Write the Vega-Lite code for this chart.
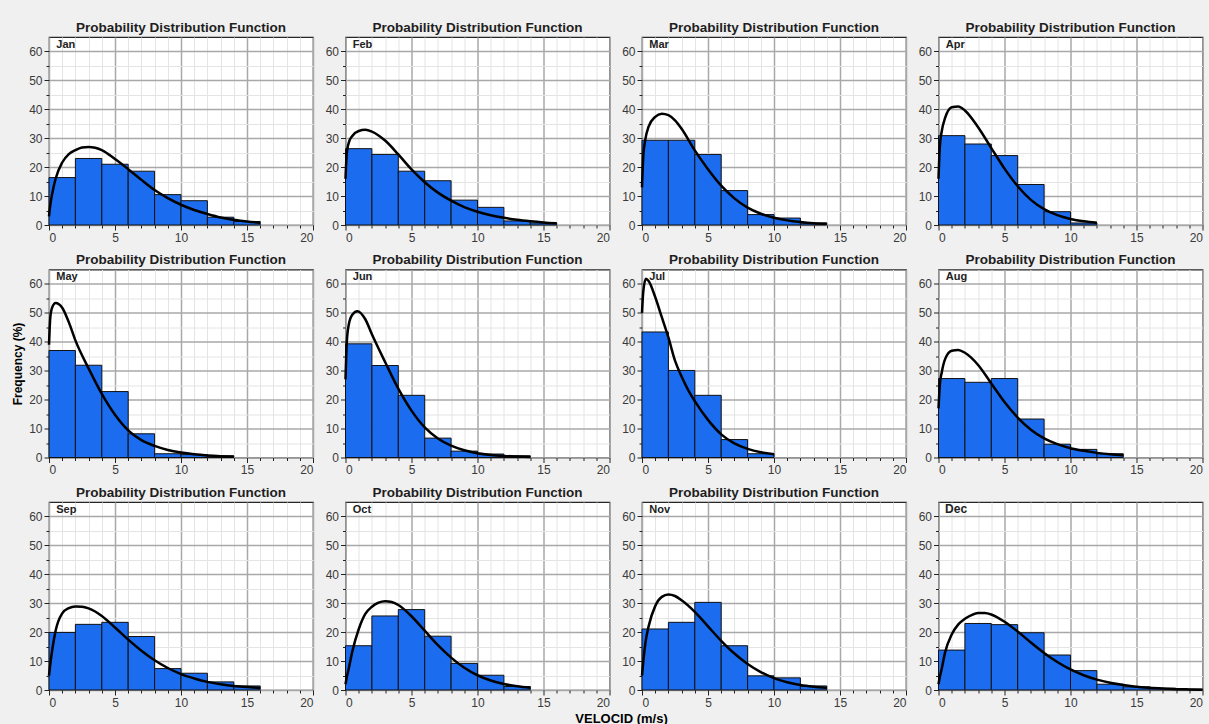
{
  "$schema": "https://vega.github.io/schema/vega-lite/v6.json",
  "background": "#f0f0f0",
  "padding": {"left": 11, "top": 19, "right": 0, "bottom": 0},
  "title": {"text": "VELOCID (m/s)", "orient": "bottom", "anchor": "middle", "fontSize": 13, "offset": 4, "dx": 12, "color": "#000"},
  "config": {
    "font": "Liberation Sans",
    "view": {"fill": "white", "stroke": "#262626", "strokeWidth": 1.2},
    "title": {"font": "Liberation Sans", "fontSize": 13.5, "fontWeight": "bold", "color": "#1e1e1e", "offset": 3, "anchor": "middle"},
    "axis": {"labelFont": "Liberation Sans", "labelFontSize": 12, "labelColor": "#3a3a3a", "tickColor": "#222", "labelPadding": 2, "labelOverlap": false, "labelBound": false, "gridOpacity": 1, "domain": false, "tickCount": 100, "titleFont": "Liberation Sans", "titleFontSize": 12, "titleFontWeight": "bold", "titleColor": "#000"}
  },
  "datasets": {
    "bars": [
      {"m":"Jan","a":0,"b":2,"v":16.4},{"m":"Jan","a":2,"b":4,"v":23.0},{"m":"Jan","a":4,"b":6,"v":21.0},{"m":"Jan","a":6,"b":8,"v":18.6},{"m":"Jan","a":8,"b":10,"v":10.5},{"m":"Jan","a":10,"b":12,"v":8.4},{"m":"Jan","a":12,"b":14,"v":2.7},{"m":"Jan","a":14,"b":16,"v":1.2},
      {"m":"Feb","a":0,"b":2,"v":26.4},{"m":"Feb","a":2,"b":4,"v":24.4},{"m":"Feb","a":4,"b":6,"v":18.6},{"m":"Feb","a":6,"b":8,"v":15.3},{"m":"Feb","a":8,"b":10,"v":8.6},{"m":"Feb","a":10,"b":12,"v":6.1},{"m":"Feb","a":12,"b":14,"v":1.4},{"m":"Feb","a":14,"b":16,"v":0.7},
      {"m":"Mar","a":0,"b":2,"v":29.3},{"m":"Mar","a":2,"b":4,"v":29.3},{"m":"Mar","a":4,"b":6,"v":24.4},{"m":"Mar","a":6,"b":8,"v":11.9},{"m":"Mar","a":8,"b":10,"v":3.6},{"m":"Mar","a":10,"b":12,"v":2.4},{"m":"Mar","a":12,"b":14,"v":0.7},
      {"m":"Apr","a":0,"b":2,"v":30.9},{"m":"Apr","a":2,"b":4,"v":28.0},{"m":"Apr","a":4,"b":6,"v":24.0},{"m":"Apr","a":6,"b":8,"v":14.0},{"m":"Apr","a":8,"b":10,"v":4.6},{"m":"Apr","a":10,"b":12,"v":0.7},
      {"m":"May","a":0,"b":2,"v":37.0},{"m":"May","a":2,"b":4,"v":31.9},{"m":"May","a":4,"b":6,"v":22.8},{"m":"May","a":6,"b":8,"v":8.2},{"m":"May","a":8,"b":10,"v":1.3},{"m":"May","a":10,"b":12,"v":1.0},{"m":"May","a":12,"b":14,"v":0.6},
      {"m":"Jun","a":0,"b":2,"v":39.3},{"m":"Jun","a":2,"b":4,"v":31.8},{"m":"Jun","a":4,"b":6,"v":21.5},{"m":"Jun","a":6,"b":8,"v":6.7},{"m":"Jun","a":8,"b":10,"v":2.2},{"m":"Jun","a":10,"b":12,"v":1.2},{"m":"Jun","a":12,"b":14,"v":0.6},
      {"m":"Jul","a":0,"b":2,"v":43.4},{"m":"Jul","a":2,"b":4,"v":30.1},{"m":"Jul","a":4,"b":6,"v":21.5},{"m":"Jul","a":6,"b":8,"v":6.2},{"m":"Jul","a":8,"b":10,"v":1.3},
      {"m":"Aug","a":0,"b":2,"v":27.3},{"m":"Aug","a":2,"b":4,"v":26.0},{"m":"Aug","a":4,"b":6,"v":27.3},{"m":"Aug","a":6,"b":8,"v":13.3},{"m":"Aug","a":8,"b":10,"v":4.6},{"m":"Aug","a":10,"b":12,"v":2.8},{"m":"Aug","a":12,"b":14,"v":1.3},
      {"m":"Sep","a":0,"b":2,"v":19.9},{"m":"Sep","a":2,"b":4,"v":22.7},{"m":"Sep","a":4,"b":6,"v":23.4},{"m":"Sep","a":6,"b":8,"v":18.5},{"m":"Sep","a":8,"b":10,"v":7.4},{"m":"Sep","a":10,"b":12,"v":5.8},{"m":"Sep","a":12,"b":14,"v":2.8},{"m":"Sep","a":14,"b":16,"v":1.4},
      {"m":"Oct","a":0,"b":2,"v":15.3},{"m":"Oct","a":2,"b":4,"v":25.6},{"m":"Oct","a":4,"b":6,"v":27.8},{"m":"Oct","a":6,"b":8,"v":18.6},{"m":"Oct","a":8,"b":10,"v":9.2},{"m":"Oct","a":10,"b":12,"v":5.1},{"m":"Oct","a":12,"b":14,"v":1.2},
      {"m":"Nov","a":0,"b":2,"v":21.1},{"m":"Nov","a":2,"b":4,"v":23.4},{"m":"Nov","a":4,"b":6,"v":30.3},{"m":"Nov","a":6,"b":8,"v":15.3},{"m":"Nov","a":8,"b":10,"v":4.9},{"m":"Nov","a":10,"b":12,"v":4.2},{"m":"Nov","a":12,"b":14,"v":1.4},
      {"m":"Dec","a":0,"b":2,"v":13.8},{"m":"Dec","a":2,"b":4,"v":23.0},{"m":"Dec","a":4,"b":6,"v":22.6},{"m":"Dec","a":6,"b":8,"v":19.8},{"m":"Dec","a":8,"b":10,"v":12.1},{"m":"Dec","a":10,"b":12,"v":6.7},{"m":"Dec","a":12,"b":14,"v":2.0},{"m":"Dec","a":14,"b":16,"v":1.1},{"m":"Dec","a":16,"b":18,"v":0.6},{"m":"Dec","a":18,"b":20,"v":0.3}
    ],
    "curve": [
      {"m":"Jan","x":0,"y":3},{"m":"Jan","x":0.1,"y":7},{"m":"Jan","x":0.25,"y":11},{"m":"Jan","x":0.5,"y":16},{"m":"Jan","x":1,"y":21.6},{"m":"Jan","x":1.5,"y":24.5},{"m":"Jan","x":2,"y":25.9},{"m":"Jan","x":2.5,"y":26.8},{"m":"Jan","x":3,"y":27},{"m":"Jan","x":3.5,"y":26.7},{"m":"Jan","x":4,"y":25.9},{"m":"Jan","x":5,"y":22.8},{"m":"Jan","x":6,"y":19.3},{"m":"Jan","x":7,"y":15.6},{"m":"Jan","x":8,"y":12.1},{"m":"Jan","x":9,"y":9.3},{"m":"Jan","x":10,"y":7},{"m":"Jan","x":11,"y":5.2},{"m":"Jan","x":12,"y":3.8},{"m":"Jan","x":13,"y":2.6},{"m":"Jan","x":14,"y":1.8},{"m":"Jan","x":15,"y":1.2},{"m":"Jan","x":16,"y":0.8},
      {"m":"Feb","x":0,"y":16},{"m":"Feb","x":0.1,"y":25},{"m":"Feb","x":0.25,"y":28.5},{"m":"Feb","x":0.5,"y":30.7},{"m":"Feb","x":1,"y":32.5},{"m":"Feb","x":1.5,"y":32.9},{"m":"Feb","x":2,"y":32.3},{"m":"Feb","x":3,"y":29.2},{"m":"Feb","x":4,"y":24.4},{"m":"Feb","x":5,"y":19.2},{"m":"Feb","x":6,"y":14.8},{"m":"Feb","x":7,"y":11.2},{"m":"Feb","x":8,"y":8.4},{"m":"Feb","x":9,"y":6.2},{"m":"Feb","x":10,"y":4.6},{"m":"Feb","x":11,"y":3.4},{"m":"Feb","x":12,"y":2.5},{"m":"Feb","x":13,"y":1.8},{"m":"Feb","x":14,"y":1.3},{"m":"Feb","x":15,"y":0.9},{"m":"Feb","x":16,"y":0.6},
      {"m":"Mar","x":0,"y":13},{"m":"Mar","x":0.1,"y":24},{"m":"Mar","x":0.25,"y":29.5},{"m":"Mar","x":0.5,"y":34},{"m":"Mar","x":1,"y":37.4},{"m":"Mar","x":1.5,"y":38.5},{"m":"Mar","x":2,"y":38},{"m":"Mar","x":2.5,"y":36.2},{"m":"Mar","x":3,"y":33.3},{"m":"Mar","x":4,"y":25.8},{"m":"Mar","x":5,"y":19.3},{"m":"Mar","x":6,"y":13.6},{"m":"Mar","x":7,"y":9.2},{"m":"Mar","x":8,"y":6},{"m":"Mar","x":9,"y":3.9},{"m":"Mar","x":10,"y":2.5},{"m":"Mar","x":11,"y":1.6},{"m":"Mar","x":12,"y":1},{"m":"Mar","x":13,"y":0.6},{"m":"Mar","x":14,"y":0.4},
      {"m":"Apr","x":0,"y":16},{"m":"Apr","x":0.1,"y":27},{"m":"Apr","x":0.25,"y":32.5},{"m":"Apr","x":0.5,"y":37},{"m":"Apr","x":1,"y":40.7},{"m":"Apr","x":1.5,"y":41},{"m":"Apr","x":2,"y":39.6},{"m":"Apr","x":3,"y":33.8},{"m":"Apr","x":4,"y":26.6},{"m":"Apr","x":5,"y":19.5},{"m":"Apr","x":6,"y":13.4},{"m":"Apr","x":7,"y":8.7},{"m":"Apr","x":8,"y":5.5},{"m":"Apr","x":9,"y":3.4},{"m":"Apr","x":10,"y":2.1},{"m":"Apr","x":11,"y":1.3},{"m":"Apr","x":12,"y":0.8},
      {"m":"May","x":0,"y":39},{"m":"May","x":0.1,"y":48.5},{"m":"May","x":0.25,"y":52},{"m":"May","x":0.5,"y":53.4},{"m":"May","x":0.75,"y":53},{"m":"May","x":1,"y":51.8},{"m":"May","x":1.5,"y":46.8},{"m":"May","x":2,"y":40.5},{"m":"May","x":3,"y":30.8},{"m":"May","x":4,"y":22},{"m":"May","x":5,"y":14.8},{"m":"May","x":6,"y":9.4},{"m":"May","x":7,"y":6},{"m":"May","x":8,"y":4},{"m":"May","x":9,"y":2.6},{"m":"May","x":10,"y":1.7},{"m":"May","x":11,"y":1.1},{"m":"May","x":12,"y":0.7},{"m":"May","x":13,"y":0.45},{"m":"May","x":14,"y":0.3},
      {"m":"Jun","x":0,"y":27},{"m":"Jun","x":0.1,"y":40},{"m":"Jun","x":0.25,"y":46},{"m":"Jun","x":0.5,"y":49.3},{"m":"Jun","x":0.9,"y":50.6},{"m":"Jun","x":1.5,"y":47.8},{"m":"Jun","x":2,"y":42.6},{"m":"Jun","x":3,"y":33},{"m":"Jun","x":4,"y":23.8},{"m":"Jun","x":5,"y":16.2},{"m":"Jun","x":6,"y":10.4},{"m":"Jun","x":7,"y":6.6},{"m":"Jun","x":8,"y":4.1},{"m":"Jun","x":9,"y":2.5},{"m":"Jun","x":10,"y":1.5},{"m":"Jun","x":11,"y":0.9},{"m":"Jun","x":12,"y":0.55},{"m":"Jun","x":13,"y":0.35},{"m":"Jun","x":14,"y":0.2},
      {"m":"Jul","x":0,"y":50},{"m":"Jul","x":0.1,"y":57.5},{"m":"Jul","x":0.3,"y":61.8},{"m":"Jul","x":0.5,"y":61},{"m":"Jul","x":1,"y":55.5},{"m":"Jul","x":1.5,"y":48.5},{"m":"Jul","x":2,"y":41.5},{"m":"Jul","x":2.5,"y":33.5},{"m":"Jul","x":3,"y":28},{"m":"Jul","x":3.5,"y":23.3},{"m":"Jul","x":4,"y":19.5},{"m":"Jul","x":5,"y":13},{"m":"Jul","x":6,"y":8},{"m":"Jul","x":7,"y":4.9},{"m":"Jul","x":8,"y":3},{"m":"Jul","x":9,"y":1.8},{"m":"Jul","x":10,"y":1.1},
      {"m":"Aug","x":0,"y":17},{"m":"Aug","x":0.1,"y":25},{"m":"Aug","x":0.25,"y":29.5},{"m":"Aug","x":0.5,"y":34},{"m":"Aug","x":1,"y":36.9},{"m":"Aug","x":1.5,"y":37.2},{"m":"Aug","x":2,"y":36.2},{"m":"Aug","x":3,"y":32},{"m":"Aug","x":4,"y":25.6},{"m":"Aug","x":5,"y":19.2},{"m":"Aug","x":6,"y":13.8},{"m":"Aug","x":7,"y":9.6},{"m":"Aug","x":8,"y":6.6},{"m":"Aug","x":9,"y":4.6},{"m":"Aug","x":10,"y":3.2},{"m":"Aug","x":11,"y":2.3},{"m":"Aug","x":12,"y":1.6},{"m":"Aug","x":13,"y":1.1},{"m":"Aug","x":14,"y":0.8},
      {"m":"Sep","x":0,"y":5},{"m":"Sep","x":0.1,"y":9},{"m":"Sep","x":0.25,"y":14},{"m":"Sep","x":0.5,"y":20.5},{"m":"Sep","x":1,"y":26.5},{"m":"Sep","x":1.5,"y":28.3},{"m":"Sep","x":2,"y":28.9},{"m":"Sep","x":2.5,"y":28.8},{"m":"Sep","x":3,"y":28.2},{"m":"Sep","x":4,"y":25.6},{"m":"Sep","x":5,"y":21.6},{"m":"Sep","x":6,"y":17.4},{"m":"Sep","x":7,"y":13.6},{"m":"Sep","x":8,"y":10.3},{"m":"Sep","x":9,"y":7.6},{"m":"Sep","x":10,"y":5.5},{"m":"Sep","x":11,"y":4},{"m":"Sep","x":12,"y":2.8},{"m":"Sep","x":13,"y":2},{"m":"Sep","x":14,"y":1.4},{"m":"Sep","x":15,"y":1},{"m":"Sep","x":16,"y":0.7},
      {"m":"Oct","x":0,"y":2},{"m":"Oct","x":0.1,"y":4.5},{"m":"Oct","x":0.25,"y":7.5},{"m":"Oct","x":0.5,"y":13},{"m":"Oct","x":1,"y":21},{"m":"Oct","x":1.5,"y":26.3},{"m":"Oct","x":2,"y":28.8},{"m":"Oct","x":2.5,"y":30.2},{"m":"Oct","x":3,"y":30.7},{"m":"Oct","x":3.5,"y":30.4},{"m":"Oct","x":4,"y":29.4},{"m":"Oct","x":5,"y":25.5},{"m":"Oct","x":6,"y":20.5},{"m":"Oct","x":7,"y":15.5},{"m":"Oct","x":8,"y":11.2},{"m":"Oct","x":9,"y":7.7},{"m":"Oct","x":10,"y":5.1},{"m":"Oct","x":11,"y":3.3},{"m":"Oct","x":12,"y":2.1},{"m":"Oct","x":13,"y":1.3},{"m":"Oct","x":14,"y":0.8},
      {"m":"Nov","x":0,"y":5},{"m":"Nov","x":0.1,"y":10},{"m":"Nov","x":0.25,"y":16},{"m":"Nov","x":0.5,"y":22},{"m":"Nov","x":1,"y":29},{"m":"Nov","x":1.5,"y":32.2},{"m":"Nov","x":2,"y":33},{"m":"Nov","x":2.5,"y":32.5},{"m":"Nov","x":3,"y":31},{"m":"Nov","x":4,"y":27},{"m":"Nov","x":5,"y":22},{"m":"Nov","x":6,"y":17},{"m":"Nov","x":7,"y":12.6},{"m":"Nov","x":8,"y":9},{"m":"Nov","x":9,"y":6.2},{"m":"Nov","x":10,"y":4.1},{"m":"Nov","x":11,"y":2.7},{"m":"Nov","x":12,"y":1.7},{"m":"Nov","x":13,"y":1.1},{"m":"Nov","x":14,"y":0.7},
      {"m":"Dec","x":0,"y":2},{"m":"Dec","x":0.1,"y":4.5},{"m":"Dec","x":0.25,"y":7.5},{"m":"Dec","x":0.5,"y":13},{"m":"Dec","x":1,"y":19.2},{"m":"Dec","x":1.5,"y":22.7},{"m":"Dec","x":2,"y":24.6},{"m":"Dec","x":2.5,"y":25.9},{"m":"Dec","x":3,"y":26.6},{"m":"Dec","x":3.5,"y":26.6},{"m":"Dec","x":4,"y":26.1},{"m":"Dec","x":5,"y":23.6},{"m":"Dec","x":6,"y":20.2},{"m":"Dec","x":7,"y":16.4},{"m":"Dec","x":8,"y":12.8},{"m":"Dec","x":9,"y":9.7},{"m":"Dec","x":10,"y":7.1},{"m":"Dec","x":11,"y":5.1},{"m":"Dec","x":12,"y":3.6},{"m":"Dec","x":13,"y":2.5},{"m":"Dec","x":14,"y":1.7},{"m":"Dec","x":15,"y":1.1},{"m":"Dec","x":16,"y":0.75},{"m":"Dec","x":17,"y":0.5},{"m":"Dec","x":18,"y":0.3},{"m":"Dec","x":19,"y":0.2},{"m":"Dec","x":20,"y":0.12}
    ]
  },
  "columns": 4,
  "align": "each",
  "spacing": {"row": 7.5, "column": 9.5},
  "concat": [
    {"title": "Probability Distribution Function", "width": 264, "height": 188, "layer": [
      {"data": {"name": "bars"}, "transform": [{"filter": "datum.m === 'Jan'"}], "mark": {"type": "rect", "fill": "#1b6cee", "stroke": "#111", "strokeWidth": 1}, "encoding": {"x": {"field": "a", "type": "quantitative", "scale": {"domain": [0, 20], "nice": false}, "axis": {"title": null, "format": "d", "tickCount": 100, "values": [0,1,2,3,4,5,6,7,8,9,10,11,12,13,14,15,16,17,18,19,20], "labelExpr": "datum.value % 5 === 0 ? datum.label : ''", "gridColor": {"condition": {"test": "datum.value % 5 === 0", "value": "#a8a8a8"}, "value": "#e4e4e4"}, "gridWidth": {"condition": {"test": "datum.value % 5 === 0", "value": 1.5}, "value": 1}, "tickSize": {"condition": {"test": "datum.value % 5 === 0", "value": 5}, "value": 3}}}, "x2": {"field": "b"}, "y": {"field": "v", "type": "quantitative", "scale": {"domain": [0, 65], "nice": false}, "axis": {"title": null, "format": "d", "tickCount": 100, "values": [0,5,10,15,20,25,30,35,40,45,50,55,60], "labelExpr": "datum.value % 10 === 0 ? datum.label : ''", "gridColor": {"condition": {"test": "datum.value % 10 === 0", "value": "#a8a8a8"}, "value": "#e4e4e4"}, "gridWidth": {"condition": {"test": "datum.value % 10 === 0", "value": 1.5}, "value": 1}, "tickSize": {"condition": {"test": "datum.value % 10 === 0", "value": 5}, "value": 3}}}, "y2": {"datum": 0}}},
      {"data": {"name": "curve"}, "transform": [{"filter": "datum.m === 'Jan'"}], "mark": {"type": "line", "interpolate": "monotone", "color": "black", "strokeWidth": 2.5}, "encoding": {"x": {"field": "x", "type": "quantitative"}, "y": {"field": "y", "type": "quantitative"}}},
      {"data": {"values": [{"m": "Jan"}]}, "mark": {"type": "text", "align": "left", "baseline": "middle", "fontWeight": "bold", "fontSize": 11, "font": "Liberation Sans", "color": "#222"}, "encoding": {"x": {"datum": 0.55, "type": "quantitative"}, "y": {"datum": 62.3, "type": "quantitative"}, "text": {"field": "m"}}}
    ]},
    {"title": "Probability Distribution Function", "width": 264, "height": 188, "layer": [
      {"data": {"name": "bars"}, "transform": [{"filter": "datum.m === 'Feb'"}], "mark": {"type": "rect", "fill": "#1b6cee", "stroke": "#111", "strokeWidth": 1}, "encoding": {"x": {"field": "a", "type": "quantitative", "scale": {"domain": [0, 20], "nice": false}, "axis": {"title": null, "format": "d", "tickCount": 100, "values": [0,1,2,3,4,5,6,7,8,9,10,11,12,13,14,15,16,17,18,19,20], "labelExpr": "datum.value % 5 === 0 ? datum.label : ''", "gridColor": {"condition": {"test": "datum.value % 5 === 0", "value": "#a8a8a8"}, "value": "#e4e4e4"}, "gridWidth": {"condition": {"test": "datum.value % 5 === 0", "value": 1.5}, "value": 1}, "tickSize": {"condition": {"test": "datum.value % 5 === 0", "value": 5}, "value": 3}}}, "x2": {"field": "b"}, "y": {"field": "v", "type": "quantitative", "scale": {"domain": [0, 65], "nice": false}, "axis": {"title": null, "format": "d", "tickCount": 100, "values": [0,5,10,15,20,25,30,35,40,45,50,55,60], "labelExpr": "datum.value % 10 === 0 ? datum.label : ''", "gridColor": {"condition": {"test": "datum.value % 10 === 0", "value": "#a8a8a8"}, "value": "#e4e4e4"}, "gridWidth": {"condition": {"test": "datum.value % 10 === 0", "value": 1.5}, "value": 1}, "tickSize": {"condition": {"test": "datum.value % 10 === 0", "value": 5}, "value": 3}}}, "y2": {"datum": 0}}},
      {"data": {"name": "curve"}, "transform": [{"filter": "datum.m === 'Feb'"}], "mark": {"type": "line", "interpolate": "monotone", "color": "black", "strokeWidth": 2.5}, "encoding": {"x": {"field": "x", "type": "quantitative"}, "y": {"field": "y", "type": "quantitative"}}},
      {"data": {"values": [{"m": "Feb"}]}, "mark": {"type": "text", "align": "left", "baseline": "middle", "fontWeight": "bold", "fontSize": 11, "font": "Liberation Sans", "color": "#222"}, "encoding": {"x": {"datum": 0.55, "type": "quantitative"}, "y": {"datum": 62.3, "type": "quantitative"}, "text": {"field": "m"}}}
    ]},
    {"title": "Probability Distribution Function", "width": 264, "height": 188, "layer": [
      {"data": {"name": "bars"}, "transform": [{"filter": "datum.m === 'Mar'"}], "mark": {"type": "rect", "fill": "#1b6cee", "stroke": "#111", "strokeWidth": 1}, "encoding": {"x": {"field": "a", "type": "quantitative", "scale": {"domain": [0, 20], "nice": false}, "axis": {"title": null, "format": "d", "tickCount": 100, "values": [0,1,2,3,4,5,6,7,8,9,10,11,12,13,14,15,16,17,18,19,20], "labelExpr": "datum.value % 5 === 0 ? datum.label : ''", "gridColor": {"condition": {"test": "datum.value % 5 === 0", "value": "#a8a8a8"}, "value": "#e4e4e4"}, "gridWidth": {"condition": {"test": "datum.value % 5 === 0", "value": 1.5}, "value": 1}, "tickSize": {"condition": {"test": "datum.value % 5 === 0", "value": 5}, "value": 3}}}, "x2": {"field": "b"}, "y": {"field": "v", "type": "quantitative", "scale": {"domain": [0, 65], "nice": false}, "axis": {"title": null, "format": "d", "tickCount": 100, "values": [0,5,10,15,20,25,30,35,40,45,50,55,60], "labelExpr": "datum.value % 10 === 0 ? datum.label : ''", "gridColor": {"condition": {"test": "datum.value % 10 === 0", "value": "#a8a8a8"}, "value": "#e4e4e4"}, "gridWidth": {"condition": {"test": "datum.value % 10 === 0", "value": 1.5}, "value": 1}, "tickSize": {"condition": {"test": "datum.value % 10 === 0", "value": 5}, "value": 3}}}, "y2": {"datum": 0}}},
      {"data": {"name": "curve"}, "transform": [{"filter": "datum.m === 'Mar'"}], "mark": {"type": "line", "interpolate": "monotone", "color": "black", "strokeWidth": 2.5}, "encoding": {"x": {"field": "x", "type": "quantitative"}, "y": {"field": "y", "type": "quantitative"}}},
      {"data": {"values": [{"m": "Mar"}]}, "mark": {"type": "text", "align": "left", "baseline": "middle", "fontWeight": "bold", "fontSize": 11, "font": "Liberation Sans", "color": "#222"}, "encoding": {"x": {"datum": 0.55, "type": "quantitative"}, "y": {"datum": 62.3, "type": "quantitative"}, "text": {"field": "m"}}}
    ]},
    {"title": "Probability Distribution Function", "width": 264, "height": 188, "layer": [
      {"data": {"name": "bars"}, "transform": [{"filter": "datum.m === 'Apr'"}], "mark": {"type": "rect", "fill": "#1b6cee", "stroke": "#111", "strokeWidth": 1}, "encoding": {"x": {"field": "a", "type": "quantitative", "scale": {"domain": [0, 20], "nice": false}, "axis": {"title": null, "format": "d", "tickCount": 100, "values": [0,1,2,3,4,5,6,7,8,9,10,11,12,13,14,15,16,17,18,19,20], "labelExpr": "datum.value % 5 === 0 ? datum.label : ''", "gridColor": {"condition": {"test": "datum.value % 5 === 0", "value": "#a8a8a8"}, "value": "#e4e4e4"}, "gridWidth": {"condition": {"test": "datum.value % 5 === 0", "value": 1.5}, "value": 1}, "tickSize": {"condition": {"test": "datum.value % 5 === 0", "value": 5}, "value": 3}}}, "x2": {"field": "b"}, "y": {"field": "v", "type": "quantitative", "scale": {"domain": [0, 65], "nice": false}, "axis": {"title": null, "format": "d", "tickCount": 100, "values": [0,5,10,15,20,25,30,35,40,45,50,55,60], "labelExpr": "datum.value % 10 === 0 ? datum.label : ''", "gridColor": {"condition": {"test": "datum.value % 10 === 0", "value": "#a8a8a8"}, "value": "#e4e4e4"}, "gridWidth": {"condition": {"test": "datum.value % 10 === 0", "value": 1.5}, "value": 1}, "tickSize": {"condition": {"test": "datum.value % 10 === 0", "value": 5}, "value": 3}}}, "y2": {"datum": 0}}},
      {"data": {"name": "curve"}, "transform": [{"filter": "datum.m === 'Apr'"}], "mark": {"type": "line", "interpolate": "monotone", "color": "black", "strokeWidth": 2.5}, "encoding": {"x": {"field": "x", "type": "quantitative"}, "y": {"field": "y", "type": "quantitative"}}},
      {"data": {"values": [{"m": "Apr"}]}, "mark": {"type": "text", "align": "left", "baseline": "middle", "fontWeight": "bold", "fontSize": 11, "font": "Liberation Sans", "color": "#222"}, "encoding": {"x": {"datum": 0.55, "type": "quantitative"}, "y": {"datum": 62.3, "type": "quantitative"}, "text": {"field": "m"}}}
    ]},
    {"title": "Probability Distribution Function", "width": 264, "height": 188, "layer": [
      {"data": {"name": "bars"}, "transform": [{"filter": "datum.m === 'May'"}], "mark": {"type": "rect", "fill": "#1b6cee", "stroke": "#111", "strokeWidth": 1}, "encoding": {"x": {"field": "a", "type": "quantitative", "scale": {"domain": [0, 20], "nice": false}, "axis": {"title": null, "format": "d", "tickCount": 100, "values": [0,1,2,3,4,5,6,7,8,9,10,11,12,13,14,15,16,17,18,19,20], "labelExpr": "datum.value % 5 === 0 ? datum.label : ''", "gridColor": {"condition": {"test": "datum.value % 5 === 0", "value": "#a8a8a8"}, "value": "#e4e4e4"}, "gridWidth": {"condition": {"test": "datum.value % 5 === 0", "value": 1.5}, "value": 1}, "tickSize": {"condition": {"test": "datum.value % 5 === 0", "value": 5}, "value": 3}}}, "x2": {"field": "b"}, "y": {"field": "v", "type": "quantitative", "scale": {"domain": [0, 65], "nice": false}, "axis": {"title": "Frequency (%)", "titlePadding": 4, "format": "d", "tickCount": 100, "values": [0,5,10,15,20,25,30,35,40,45,50,55,60], "labelExpr": "datum.value % 10 === 0 ? datum.label : ''", "gridColor": {"condition": {"test": "datum.value % 10 === 0", "value": "#a8a8a8"}, "value": "#e4e4e4"}, "gridWidth": {"condition": {"test": "datum.value % 10 === 0", "value": 1.5}, "value": 1}, "tickSize": {"condition": {"test": "datum.value % 10 === 0", "value": 5}, "value": 3}}}, "y2": {"datum": 0}}},
      {"data": {"name": "curve"}, "transform": [{"filter": "datum.m === 'May'"}], "mark": {"type": "line", "interpolate": "monotone", "color": "black", "strokeWidth": 2.5}, "encoding": {"x": {"field": "x", "type": "quantitative"}, "y": {"field": "y", "type": "quantitative"}}},
      {"data": {"values": [{"m": "May"}]}, "mark": {"type": "text", "align": "left", "baseline": "middle", "fontWeight": "bold", "fontSize": 11, "font": "Liberation Sans", "color": "#222"}, "encoding": {"x": {"datum": 0.55, "type": "quantitative"}, "y": {"datum": 62.3, "type": "quantitative"}, "text": {"field": "m"}}}
    ]},
    {"title": "Probability Distribution Function", "width": 264, "height": 188, "layer": [
      {"data": {"name": "bars"}, "transform": [{"filter": "datum.m === 'Jun'"}], "mark": {"type": "rect", "fill": "#1b6cee", "stroke": "#111", "strokeWidth": 1}, "encoding": {"x": {"field": "a", "type": "quantitative", "scale": {"domain": [0, 20], "nice": false}, "axis": {"title": null, "format": "d", "tickCount": 100, "values": [0,1,2,3,4,5,6,7,8,9,10,11,12,13,14,15,16,17,18,19,20], "labelExpr": "datum.value % 5 === 0 ? datum.label : ''", "gridColor": {"condition": {"test": "datum.value % 5 === 0", "value": "#a8a8a8"}, "value": "#e4e4e4"}, "gridWidth": {"condition": {"test": "datum.value % 5 === 0", "value": 1.5}, "value": 1}, "tickSize": {"condition": {"test": "datum.value % 5 === 0", "value": 5}, "value": 3}}}, "x2": {"field": "b"}, "y": {"field": "v", "type": "quantitative", "scale": {"domain": [0, 65], "nice": false}, "axis": {"title": null, "format": "d", "tickCount": 100, "values": [0,5,10,15,20,25,30,35,40,45,50,55,60], "labelExpr": "datum.value % 10 === 0 ? datum.label : ''", "gridColor": {"condition": {"test": "datum.value % 10 === 0", "value": "#a8a8a8"}, "value": "#e4e4e4"}, "gridWidth": {"condition": {"test": "datum.value % 10 === 0", "value": 1.5}, "value": 1}, "tickSize": {"condition": {"test": "datum.value % 10 === 0", "value": 5}, "value": 3}}}, "y2": {"datum": 0}}},
      {"data": {"name": "curve"}, "transform": [{"filter": "datum.m === 'Jun'"}], "mark": {"type": "line", "interpolate": "monotone", "color": "black", "strokeWidth": 2.5}, "encoding": {"x": {"field": "x", "type": "quantitative"}, "y": {"field": "y", "type": "quantitative"}}},
      {"data": {"values": [{"m": "Jun"}]}, "mark": {"type": "text", "align": "left", "baseline": "middle", "fontWeight": "bold", "fontSize": 11, "font": "Liberation Sans", "color": "#222"}, "encoding": {"x": {"datum": 0.55, "type": "quantitative"}, "y": {"datum": 62.3, "type": "quantitative"}, "text": {"field": "m"}}}
    ]},
    {"title": "Probability Distribution Function", "width": 264, "height": 188, "layer": [
      {"data": {"name": "bars"}, "transform": [{"filter": "datum.m === 'Jul'"}], "mark": {"type": "rect", "fill": "#1b6cee", "stroke": "#111", "strokeWidth": 1}, "encoding": {"x": {"field": "a", "type": "quantitative", "scale": {"domain": [0, 20], "nice": false}, "axis": {"title": null, "format": "d", "tickCount": 100, "values": [0,1,2,3,4,5,6,7,8,9,10,11,12,13,14,15,16,17,18,19,20], "labelExpr": "datum.value % 5 === 0 ? datum.label : ''", "gridColor": {"condition": {"test": "datum.value % 5 === 0", "value": "#a8a8a8"}, "value": "#e4e4e4"}, "gridWidth": {"condition": {"test": "datum.value % 5 === 0", "value": 1.5}, "value": 1}, "tickSize": {"condition": {"test": "datum.value % 5 === 0", "value": 5}, "value": 3}}}, "x2": {"field": "b"}, "y": {"field": "v", "type": "quantitative", "scale": {"domain": [0, 65], "nice": false}, "axis": {"title": null, "format": "d", "tickCount": 100, "values": [0,5,10,15,20,25,30,35,40,45,50,55,60], "labelExpr": "datum.value % 10 === 0 ? datum.label : ''", "gridColor": {"condition": {"test": "datum.value % 10 === 0", "value": "#a8a8a8"}, "value": "#e4e4e4"}, "gridWidth": {"condition": {"test": "datum.value % 10 === 0", "value": 1.5}, "value": 1}, "tickSize": {"condition": {"test": "datum.value % 10 === 0", "value": 5}, "value": 3}}}, "y2": {"datum": 0}}},
      {"data": {"name": "curve"}, "transform": [{"filter": "datum.m === 'Jul'"}], "mark": {"type": "line", "interpolate": "monotone", "color": "black", "strokeWidth": 2.5}, "encoding": {"x": {"field": "x", "type": "quantitative"}, "y": {"field": "y", "type": "quantitative"}}},
      {"data": {"values": [{"m": "Jul"}]}, "mark": {"type": "text", "align": "left", "baseline": "middle", "fontWeight": "bold", "fontSize": 11, "font": "Liberation Sans", "color": "#222"}, "encoding": {"x": {"datum": 0.55, "type": "quantitative"}, "y": {"datum": 62.3, "type": "quantitative"}, "text": {"field": "m"}}}
    ]},
    {"title": "Probability Distribution Function", "width": 264, "height": 188, "layer": [
      {"data": {"name": "bars"}, "transform": [{"filter": "datum.m === 'Aug'"}], "mark": {"type": "rect", "fill": "#1b6cee", "stroke": "#111", "strokeWidth": 1}, "encoding": {"x": {"field": "a", "type": "quantitative", "scale": {"domain": [0, 20], "nice": false}, "axis": {"title": null, "format": "d", "tickCount": 100, "values": [0,1,2,3,4,5,6,7,8,9,10,11,12,13,14,15,16,17,18,19,20], "labelExpr": "datum.value % 5 === 0 ? datum.label : ''", "gridColor": {"condition": {"test": "datum.value % 5 === 0", "value": "#a8a8a8"}, "value": "#e4e4e4"}, "gridWidth": {"condition": {"test": "datum.value % 5 === 0", "value": 1.5}, "value": 1}, "tickSize": {"condition": {"test": "datum.value % 5 === 0", "value": 5}, "value": 3}}}, "x2": {"field": "b"}, "y": {"field": "v", "type": "quantitative", "scale": {"domain": [0, 65], "nice": false}, "axis": {"title": null, "format": "d", "tickCount": 100, "values": [0,5,10,15,20,25,30,35,40,45,50,55,60], "labelExpr": "datum.value % 10 === 0 ? datum.label : ''", "gridColor": {"condition": {"test": "datum.value % 10 === 0", "value": "#a8a8a8"}, "value": "#e4e4e4"}, "gridWidth": {"condition": {"test": "datum.value % 10 === 0", "value": 1.5}, "value": 1}, "tickSize": {"condition": {"test": "datum.value % 10 === 0", "value": 5}, "value": 3}}}, "y2": {"datum": 0}}},
      {"data": {"name": "curve"}, "transform": [{"filter": "datum.m === 'Aug'"}], "mark": {"type": "line", "interpolate": "monotone", "color": "black", "strokeWidth": 2.5}, "encoding": {"x": {"field": "x", "type": "quantitative"}, "y": {"field": "y", "type": "quantitative"}}},
      {"data": {"values": [{"m": "Aug"}]}, "mark": {"type": "text", "align": "left", "baseline": "middle", "fontWeight": "bold", "fontSize": 11, "font": "Liberation Sans", "color": "#222"}, "encoding": {"x": {"datum": 0.55, "type": "quantitative"}, "y": {"datum": 62.3, "type": "quantitative"}, "text": {"field": "m"}}}
    ]},
    {"title": "Probability Distribution Function", "width": 264, "height": 188, "layer": [
      {"data": {"name": "bars"}, "transform": [{"filter": "datum.m === 'Sep'"}], "mark": {"type": "rect", "fill": "#1b6cee", "stroke": "#111", "strokeWidth": 1}, "encoding": {"x": {"field": "a", "type": "quantitative", "scale": {"domain": [0, 20], "nice": false}, "axis": {"title": null, "format": "d", "tickCount": 100, "values": [0,1,2,3,4,5,6,7,8,9,10,11,12,13,14,15,16,17,18,19,20], "labelExpr": "datum.value % 5 === 0 ? datum.label : ''", "gridColor": {"condition": {"test": "datum.value % 5 === 0", "value": "#a8a8a8"}, "value": "#e4e4e4"}, "gridWidth": {"condition": {"test": "datum.value % 5 === 0", "value": 1.5}, "value": 1}, "tickSize": {"condition": {"test": "datum.value % 5 === 0", "value": 5}, "value": 3}}}, "x2": {"field": "b"}, "y": {"field": "v", "type": "quantitative", "scale": {"domain": [0, 65], "nice": false}, "axis": {"title": null, "format": "d", "tickCount": 100, "values": [0,5,10,15,20,25,30,35,40,45,50,55,60], "labelExpr": "datum.value % 10 === 0 ? datum.label : ''", "gridColor": {"condition": {"test": "datum.value % 10 === 0", "value": "#a8a8a8"}, "value": "#e4e4e4"}, "gridWidth": {"condition": {"test": "datum.value % 10 === 0", "value": 1.5}, "value": 1}, "tickSize": {"condition": {"test": "datum.value % 10 === 0", "value": 5}, "value": 3}}}, "y2": {"datum": 0}}},
      {"data": {"name": "curve"}, "transform": [{"filter": "datum.m === 'Sep'"}], "mark": {"type": "line", "interpolate": "monotone", "color": "black", "strokeWidth": 2.5}, "encoding": {"x": {"field": "x", "type": "quantitative"}, "y": {"field": "y", "type": "quantitative"}}},
      {"data": {"values": [{"m": "Sep"}]}, "mark": {"type": "text", "align": "left", "baseline": "middle", "fontWeight": "bold", "fontSize": 11, "font": "Liberation Sans", "color": "#222"}, "encoding": {"x": {"datum": 0.55, "type": "quantitative"}, "y": {"datum": 62.3, "type": "quantitative"}, "text": {"field": "m"}}}
    ]},
    {"title": "Probability Distribution Function", "width": 264, "height": 188, "layer": [
      {"data": {"name": "bars"}, "transform": [{"filter": "datum.m === 'Oct'"}], "mark": {"type": "rect", "fill": "#1b6cee", "stroke": "#111", "strokeWidth": 1}, "encoding": {"x": {"field": "a", "type": "quantitative", "scale": {"domain": [0, 20], "nice": false}, "axis": {"title": null, "format": "d", "tickCount": 100, "values": [0,1,2,3,4,5,6,7,8,9,10,11,12,13,14,15,16,17,18,19,20], "labelExpr": "datum.value % 5 === 0 ? datum.label : ''", "gridColor": {"condition": {"test": "datum.value % 5 === 0", "value": "#a8a8a8"}, "value": "#e4e4e4"}, "gridWidth": {"condition": {"test": "datum.value % 5 === 0", "value": 1.5}, "value": 1}, "tickSize": {"condition": {"test": "datum.value % 5 === 0", "value": 5}, "value": 3}}}, "x2": {"field": "b"}, "y": {"field": "v", "type": "quantitative", "scale": {"domain": [0, 65], "nice": false}, "axis": {"title": null, "format": "d", "tickCount": 100, "values": [0,5,10,15,20,25,30,35,40,45,50,55,60], "labelExpr": "datum.value % 10 === 0 ? datum.label : ''", "gridColor": {"condition": {"test": "datum.value % 10 === 0", "value": "#a8a8a8"}, "value": "#e4e4e4"}, "gridWidth": {"condition": {"test": "datum.value % 10 === 0", "value": 1.5}, "value": 1}, "tickSize": {"condition": {"test": "datum.value % 10 === 0", "value": 5}, "value": 3}}}, "y2": {"datum": 0}}},
      {"data": {"name": "curve"}, "transform": [{"filter": "datum.m === 'Oct'"}], "mark": {"type": "line", "interpolate": "monotone", "color": "black", "strokeWidth": 2.5}, "encoding": {"x": {"field": "x", "type": "quantitative"}, "y": {"field": "y", "type": "quantitative"}}},
      {"data": {"values": [{"m": "Oct"}]}, "mark": {"type": "text", "align": "left", "baseline": "middle", "fontWeight": "bold", "fontSize": 11, "font": "Liberation Sans", "color": "#222"}, "encoding": {"x": {"datum": 0.55, "type": "quantitative"}, "y": {"datum": 62.3, "type": "quantitative"}, "text": {"field": "m"}}}
    ]},
    {"title": "Probability Distribution Function", "width": 264, "height": 188, "layer": [
      {"data": {"name": "bars"}, "transform": [{"filter": "datum.m === 'Nov'"}], "mark": {"type": "rect", "fill": "#1b6cee", "stroke": "#111", "strokeWidth": 1}, "encoding": {"x": {"field": "a", "type": "quantitative", "scale": {"domain": [0, 20], "nice": false}, "axis": {"title": null, "format": "d", "tickCount": 100, "values": [0,1,2,3,4,5,6,7,8,9,10,11,12,13,14,15,16,17,18,19,20], "labelExpr": "datum.value % 5 === 0 ? datum.label : ''", "gridColor": {"condition": {"test": "datum.value % 5 === 0", "value": "#a8a8a8"}, "value": "#e4e4e4"}, "gridWidth": {"condition": {"test": "datum.value % 5 === 0", "value": 1.5}, "value": 1}, "tickSize": {"condition": {"test": "datum.value % 5 === 0", "value": 5}, "value": 3}}}, "x2": {"field": "b"}, "y": {"field": "v", "type": "quantitative", "scale": {"domain": [0, 65], "nice": false}, "axis": {"title": null, "format": "d", "tickCount": 100, "values": [0,5,10,15,20,25,30,35,40,45,50,55,60], "labelExpr": "datum.value % 10 === 0 ? datum.label : ''", "gridColor": {"condition": {"test": "datum.value % 10 === 0", "value": "#a8a8a8"}, "value": "#e4e4e4"}, "gridWidth": {"condition": {"test": "datum.value % 10 === 0", "value": 1.5}, "value": 1}, "tickSize": {"condition": {"test": "datum.value % 10 === 0", "value": 5}, "value": 3}}}, "y2": {"datum": 0}}},
      {"data": {"name": "curve"}, "transform": [{"filter": "datum.m === 'Nov'"}], "mark": {"type": "line", "interpolate": "monotone", "color": "black", "strokeWidth": 2.5}, "encoding": {"x": {"field": "x", "type": "quantitative"}, "y": {"field": "y", "type": "quantitative"}}},
      {"data": {"values": [{"m": "Nov"}]}, "mark": {"type": "text", "align": "left", "baseline": "middle", "fontWeight": "bold", "fontSize": 11, "font": "Liberation Sans", "color": "#222"}, "encoding": {"x": {"datum": 0.55, "type": "quantitative"}, "y": {"datum": 62.3, "type": "quantitative"}, "text": {"field": "m"}}}
    ]},
    {"width": 264, "height": 188, "layer": [
      {"data": {"name": "bars"}, "transform": [{"filter": "datum.m === 'Dec'"}], "mark": {"type": "rect", "fill": "#1b6cee", "stroke": "#111", "strokeWidth": 1}, "encoding": {"x": {"field": "a", "type": "quantitative", "scale": {"domain": [0, 20], "nice": false}, "axis": {"title": null, "format": "d", "tickCount": 100, "values": [0,1,2,3,4,5,6,7,8,9,10,11,12,13,14,15,16,17,18,19,20], "labelExpr": "datum.value % 5 === 0 ? datum.label : ''", "gridColor": {"condition": {"test": "datum.value % 5 === 0", "value": "#a8a8a8"}, "value": "#e4e4e4"}, "gridWidth": {"condition": {"test": "datum.value % 5 === 0", "value": 1.5}, "value": 1}, "tickSize": {"condition": {"test": "datum.value % 5 === 0", "value": 5}, "value": 3}}}, "x2": {"field": "b"}, "y": {"field": "v", "type": "quantitative", "scale": {"domain": [0, 65], "nice": false}, "axis": {"title": null, "format": "d", "tickCount": 100, "values": [0,5,10,15,20,25,30,35,40,45,50,55,60], "labelExpr": "datum.value % 10 === 0 ? datum.label : ''", "gridColor": {"condition": {"test": "datum.value % 10 === 0", "value": "#a8a8a8"}, "value": "#e4e4e4"}, "gridWidth": {"condition": {"test": "datum.value % 10 === 0", "value": 1.5}, "value": 1}, "tickSize": {"condition": {"test": "datum.value % 10 === 0", "value": 5}, "value": 3}}}, "y2": {"datum": 0}}},
      {"data": {"name": "curve"}, "transform": [{"filter": "datum.m === 'Dec'"}], "mark": {"type": "line", "interpolate": "monotone", "color": "black", "strokeWidth": 2.5}, "encoding": {"x": {"field": "x", "type": "quantitative"}, "y": {"field": "y", "type": "quantitative"}}},
      {"data": {"values": [{"m": "Dec"}]}, "mark": {"type": "text", "align": "left", "baseline": "middle", "fontWeight": "bold", "fontSize": 12, "font": "Liberation Sans", "color": "#222"}, "encoding": {"x": {"datum": 0.5, "type": "quantitative"}, "y": {"datum": 62.5, "type": "quantitative"}, "text": {"field": "m"}}}
    ]}
  ]
}
